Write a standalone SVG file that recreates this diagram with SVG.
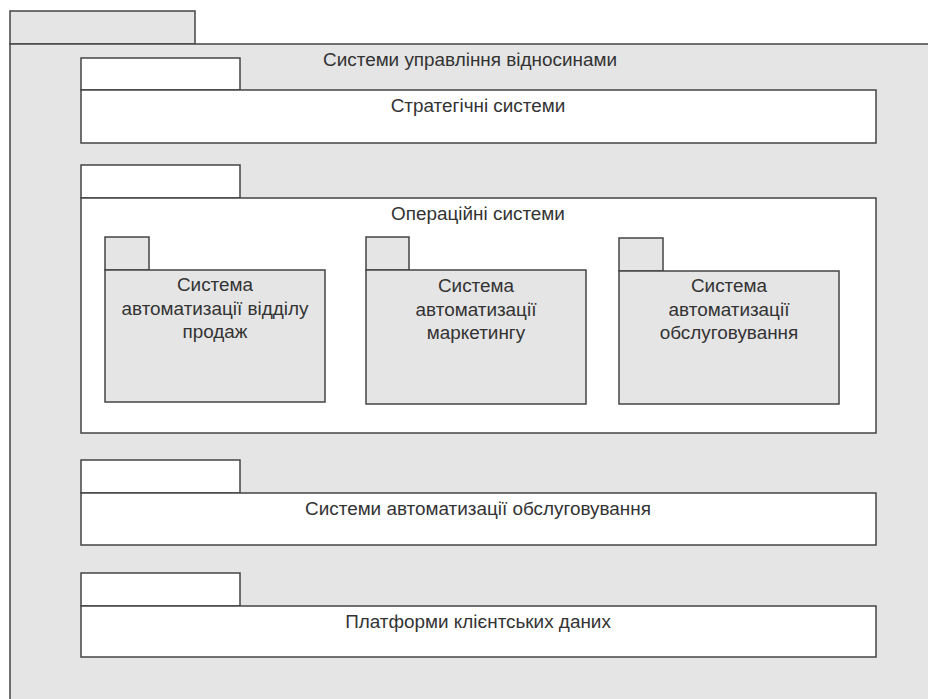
<svg xmlns="http://www.w3.org/2000/svg" width="928" height="699" viewBox="0 0 928 699">
  <style>
    .pkg { stroke: #444; stroke-width: 1.5; }
    .gray { fill: #e5e5e5; }
    .white { fill: #ffffff; }
    text { font-family: "Liberation Sans", Arial, sans-serif; font-size: 18.9px; fill: #333; text-anchor: middle; }
  </style>
  <rect width="928" height="699" fill="#ffffff"/>

  <!-- outer package -->
  <g id="crm">
    <rect class="pkg gray" x="10" y="11" width="185" height="33"/>
    <rect class="pkg gray" x="10" y="44" width="930" height="670"/>
    <text x="470" y="66">Системи управління відносинами</text>
  </g>

  <g id="strategic">
    <rect class="pkg white" x="81" y="58" width="159" height="32"/>
    <rect class="pkg white" x="81" y="90" width="795" height="53"/>
    <text x="478" y="112">Стратегічні системи</text>
  </g>

  <g id="operational">
    <rect class="pkg white" x="81" y="165" width="159" height="33"/>
    <rect class="pkg white" x="81" y="198" width="795" height="235"/>
    <text x="478" y="220">Операційні системи</text>
  </g>

  <g id="sales">
    <rect class="pkg gray" x="105" y="237" width="44" height="33"/>
    <rect class="pkg gray" x="105" y="270" width="220" height="132"/>
    <text x="215" y="291">Система</text>
    <text x="215" y="315">автоматизації відділу</text>
    <text x="215" y="338">продаж</text>
  </g>

  <g id="marketing">
    <rect class="pkg gray" x="366" y="237" width="43" height="33"/>
    <rect class="pkg gray" x="366" y="270" width="220" height="134"/>
    <text x="476" y="292">Система</text>
    <text x="476" y="316">автоматизації</text>
    <text x="476" y="339">маркетингу</text>
  </g>

  <g id="service">
    <rect class="pkg gray" x="619" y="238" width="44" height="33"/>
    <rect class="pkg gray" x="619" y="271" width="220" height="133"/>
    <text x="729" y="292">Система</text>
    <text x="729" y="316">автоматизації</text>
    <text x="729" y="339">обслуговування</text>
  </g>

  <g id="service-automation">
    <rect class="pkg white" x="81" y="460" width="159" height="33"/>
    <rect class="pkg white" x="81" y="493" width="795" height="52"/>
    <text x="478" y="515">Системи автоматизації обслуговування</text>
  </g>

  <g id="customer-data">
    <rect class="pkg white" x="81" y="573" width="159" height="33"/>
    <rect class="pkg white" x="81" y="606" width="795" height="51"/>
    <text x="478" y="628">Платформи клієнтських даних</text>
  </g>

  <g id="connectors"/>
</svg>
